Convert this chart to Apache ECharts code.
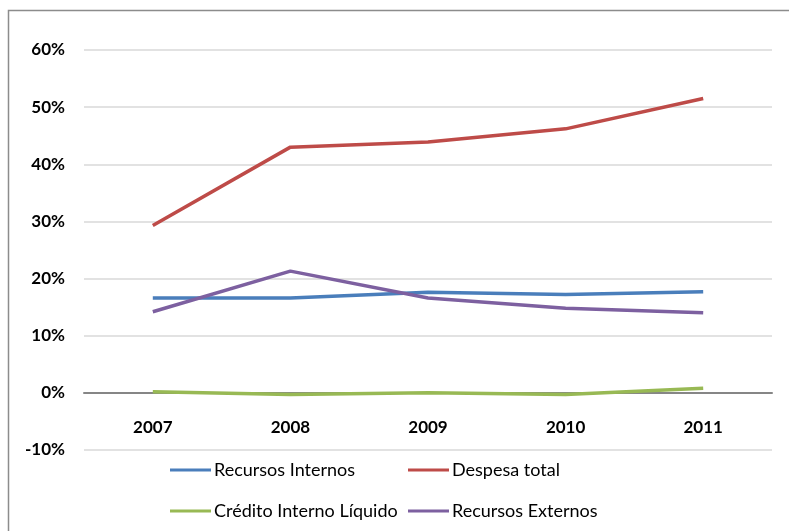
<!DOCTYPE html>
<html>
<head>
<meta charset="utf-8">
<script src="https://cdn.jsdelivr.net/npm/echarts@6/dist/echarts.min.js"></script>
<style>
  html, body { margin: 0; padding: 0; background: #fff; }
  #chart { width: 789px; height: 531px; }
</style>
</head>
<body>
<div id="chart"></div>
<script>
// dados do gráfico
const years = ['2007', '2008', '2009', '2010', '2011']
const recursosInternos = [16.6, 16.6, 17.6, 17.2, 17.7]
const despesaTotal = [29.3, 43.0, 43.9, 46.2, 51.5]
const creditoInterno = [0.2, -0.3, 0.0, -0.3, 0.8]
const recursosExternos = [14.2, 21.3, 16.6, 14.8, 14.0]

const names = ['Recursos Internos', 'Despesa total', 'Crédito Interno Líquido', 'Recursos Externos']
const colors = ['#4a7ebb', '#be4b48', '#98b954', '#7d60a0']
const font = 'Lato, "Open Sans", sans-serif'

const chart = echarts.init(document.getElementById('chart'))

// uma legenda por item para posicionar igual ao original
const legendPos = [[165, 456], [403, 456], [165, 497], [403, 497]]
const legends = names.map((n, i) => ({
  data: [n],
  left: legendPos[i][0],
  top: legendPos[i][1],
  icon: 'rect',
  itemWidth: 41,
  itemHeight: 3,
  selectedMode: false,
  textStyle: { fontFamily: font, fontSize: 18, color: '#000', padding: [0, 0, 0, -2] }
}))

const option = {
  animation: false,
  color: colors,
  graphic: [{
    type: 'rect',
    shape: { x: 8.5, y: 10.5, width: 900, height: 700 },
    style: { fill: 'none', stroke: '#8c8c8c', lineWidth: 1.5 },
    silent: true
  }],
  grid: { left: 84, right: 17, top: 50, bottom: 81 },
  legend: legends,
  xAxis: {
    type: 'category',
    data: years,
    boundaryGap: true,
    axisLine: { onZero: true, lineStyle: { color: '#868686', width: 2 } },
    axisTick: { show: false },
    axisLabel: { margin: -31, fontFamily: font, fontWeight: 'bold', fontSize: 17, color: '#000' }
  },
  yAxis: {
    type: 'value',
    min: -10,
    max: 60,
    interval: 10,
    axisLine: { show: false },
    axisTick: { show: false },
    splitLine: { lineStyle: { color: '#d9d9d9', width: 1.5 } },
    axisLabel: {
      margin: 19,
      fontFamily: font,
      fontWeight: 'bold',
      fontSize: 17,
      color: '#000',
      formatter: v => v + '%'
    }
  },
  series: [recursosInternos, despesaTotal, creditoInterno, recursosExternos].map((d, i) => ({
    name: names[i],
    type: 'line',
    data: d,
    showSymbol: false,
    lineStyle: { width: 3.5, color: colors[i] },
    itemStyle: { color: colors[i] },
    z: i === 2 ? 1 : 2
  }))
}

chart.setOption(option)
</script>
</body>
</html>
